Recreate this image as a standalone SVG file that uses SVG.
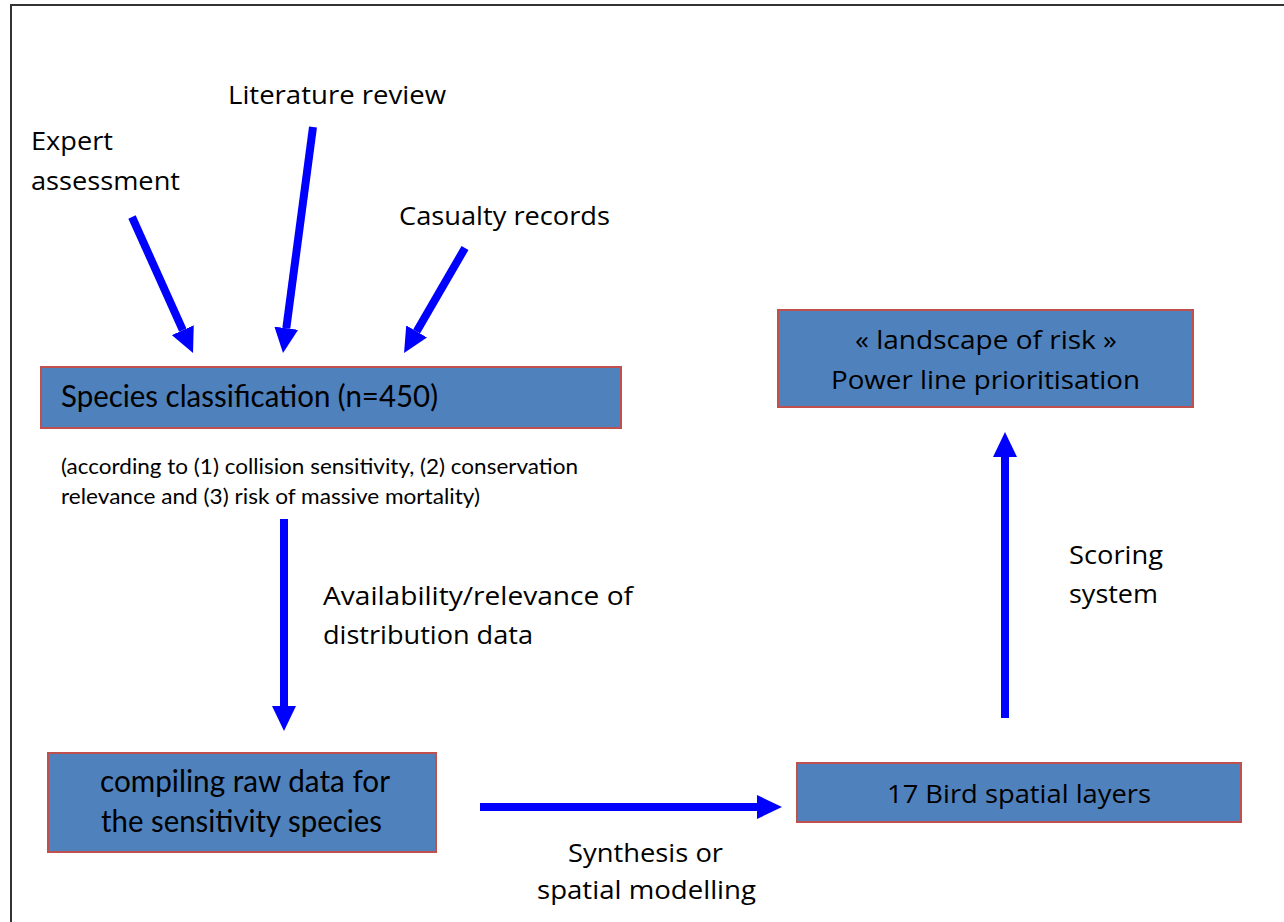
<svg xmlns="http://www.w3.org/2000/svg" width="1284" height="922" viewBox="0 0 1284 922">
  <style>
    .box { fill: #4F81BD; stroke: #C0504D; stroke-width: 2; }
    .seg { font-family: "Open Sans", "Noto Sans", "Liberation Sans", sans-serif; font-size: 26px; fill: #000; }
    .cal { font-family: Lato, "Open Sans", "Liberation Sans", sans-serif; font-size: 30px; fill: #000; }
    .sub { font-family: Lato, "Open Sans", "Liberation Sans", sans-serif; font-size: 20.5px; fill: #000; }
    .arrow { stroke: #0000FF; stroke-width: 8; fill: none; stroke-linecap: butt; marker-end: url(#head); }
  </style>
  <defs>
    <marker id="head" markerUnits="userSpaceOnUse" markerWidth="26" markerHeight="24" refX="0" refY="12" orient="auto" viewBox="0 0 26 24">
      <path d="M0,0 L25,12 L0,24 Z" fill="#0000FF"/>
    </marker>
  </defs>
  <rect x="11" y="5" width="1300" height="960" fill="#fff" stroke="#333" stroke-width="2"/>

  <g id="connectors">
    <line class="arrow" x1="132" y1="217" x2="182.8" y2="330.2"/>
    <line class="arrow" x1="313" y1="127" x2="286.3" y2="328.2"/>
    <line class="arrow" x1="465" y1="248" x2="416.6" y2="331.4"/>
    <line class="arrow" x1="284" y1="519" x2="284" y2="706"/>
    <line class="arrow" x1="480" y1="807" x2="757" y2="807"/>
    <line class="arrow" x1="1005" y1="718" x2="1005" y2="457"/>
  </g>

  <g id="expert-assessment">
    <text class="seg" x="31" y="150" textLength="82" lengthAdjust="spacingAndGlyphs">Expert</text>
    <text class="seg" x="31" y="190" textLength="149" lengthAdjust="spacingAndGlyphs">assessment</text>
  </g>
  <g id="literature-review">
    <text class="seg" x="228" y="104" textLength="218" lengthAdjust="spacingAndGlyphs">Literature review</text>
  </g>
  <g id="casualty-records">
    <text class="seg" x="399" y="225" textLength="211" lengthAdjust="spacingAndGlyphs">Casualty records</text>
  </g>

  <g id="species-classification">
    <rect class="box" x="41" y="367" width="580" height="61"/>
    <text class="cal" x="61" y="407" textLength="377" lengthAdjust="spacingAndGlyphs">Species classification (n=450)</text>
  </g>
  <g id="classification-criteria">
    <text class="sub" x="61" y="474" textLength="517" lengthAdjust="spacingAndGlyphs">(according to (1) collision sensitivity, (2) conservation</text>
    <text class="sub" x="61" y="504" textLength="419" lengthAdjust="spacingAndGlyphs">relevance and (3) risk of massive mortality)</text>
  </g>
  <g id="label-availability">
    <text class="seg" x="323" y="605" textLength="310" lengthAdjust="spacingAndGlyphs">Availability/relevance of</text>
    <text class="seg" x="323" y="644" textLength="210" lengthAdjust="spacingAndGlyphs">distribution data</text>
  </g>

  <g id="compiling-raw-data">
    <rect class="box" x="48" y="753" width="388" height="99"/>
    <text class="cal" x="100" y="792" textLength="290" lengthAdjust="spacingAndGlyphs">compiling raw data for</text>
    <text class="cal" x="101" y="832" textLength="281" lengthAdjust="spacingAndGlyphs">the sensitivity species</text>
  </g>

  <g id="label-synthesis">
    <text class="seg" x="568" y="862" textLength="155" lengthAdjust="spacingAndGlyphs">Synthesis or</text>
    <text class="seg" x="537" y="899" textLength="219" lengthAdjust="spacingAndGlyphs">spatial modelling</text>
  </g>

  <g id="bird-spatial-layers">
    <rect class="box" x="797" y="763" width="444" height="59"/>
    <text class="seg" x="887" y="803" textLength="264" lengthAdjust="spacingAndGlyphs">17 Bird spatial layers</text>
  </g>

  <g id="label-scoring">
    <text class="seg" x="1069" y="564" textLength="94" lengthAdjust="spacingAndGlyphs">Scoring</text>
    <text class="seg" x="1069" y="603" textLength="89" lengthAdjust="spacingAndGlyphs">system</text>
  </g>

  <g id="landscape-of-risk">
    <rect class="box" x="778" y="310" width="415" height="97"/>
    <text class="seg" x="855" y="349" textLength="262" lengthAdjust="spacingAndGlyphs">« landscape of risk »</text>
    <text class="seg" x="831" y="389" textLength="309" lengthAdjust="spacingAndGlyphs">Power line prioritisation</text>
  </g>
</svg>
